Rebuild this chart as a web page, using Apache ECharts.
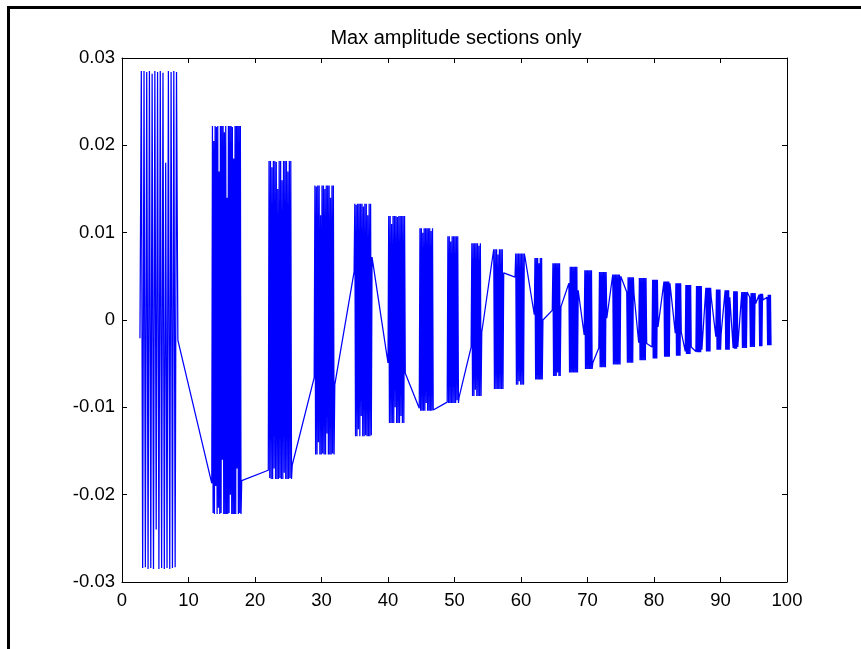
<!DOCTYPE html>
<html>
<head>
<meta charset="utf-8">
<script src="https://cdn.jsdelivr.net/npm/echarts@6/dist/echarts.min.js"></script>
<style>
html,body{margin:0;padding:0;background:#fff;}
#c{width:861px;height:649px;}
</style>
</head>
<body>
<div id="c"></div>
<script>
// ---- Data ----
const titleText = 'Max amplitude sections only';
const xTicks = [0, 10, 20, 30, 40, 50, 60, 70, 80, 90, 100];
const yTicks = [-0.03, -0.02, -0.01, 0, 0.01, 0.02, 0.03];

// start time of each max-amplitude section and its sampling interval
const sectionStart = [2.7, 13.5, 22.0, 28.9, 34.9, 40.0, 44.7, 48.9, 52.5, 55.9, 59.1, 62.0, 64.7, 67.2, 69.5, 71.7,
                      73.8, 75.9, 77.7, 79.7, 81.5, 83.2, 84.7, 86.3, 87.8, 89.3, 90.7, 91.9, 93.2, 94.4, 95.8, 97.0];
const sectionStep = [0.2036, 0.1, 0.1091, 0.1069, 0.108, 0.1083, 0.105, 0.1059, 0.1067, 0.1071, 0.1071, 0.1, 0.1, 0.1, 0.1, 0.1,
                     0.1, 0.1, 0.1, 0.09, 0.09, 0.09, 0.09, 0.09, 0.089, 0.089, 0.0875, 0.0875, 0.1, 0.1, 0.0857, 0.0857];
// sample values of each section
const sectionValues = [
  [-0.0021, 0.0285, -0.0284, 0.0285, -0.0283, 0.0284, -0.0285, 0.0285, -0.0284, 0.0282, -0.0285, 0.0285, -0.0240, 0.0284, -0.0285,
   0.0285, -0.0284, 0.0283, -0.0285, 0.0180, -0.0284, 0.0285, -0.0285, 0.0284, -0.0284, 0.0285, -0.0283, 0.0284, -0.0023],
  [-0.0187, 0.0222, -0.0221, 0.0205, -0.0222, 0.0222, -0.0190, 0.0221, -0.0222, 0.0222,
   -0.0215, 0.0170, -0.0222, 0.0222, -0.0221, 0.0222, -0.0160, 0.0222, -0.0222, 0.0215,
   -0.0222, 0.0222, -0.0222, 0.0140, -0.0222, 0.0222, -0.0221, 0.0222, -0.0200, 0.0222,
   -0.0222, 0.0221, -0.0222, 0.0185, -0.0222, 0.0222, -0.0222, 0.0222, -0.0170, 0.0222,
   -0.0222, 0.0222, -0.0221, 0.0222, -0.0222, -0.0184],
  [-0.0172, 0.0182, -0.0181, 0.0182, -0.0182, 0.0175, -0.0182, 0.0182, -0.0170, 0.0182,
   -0.0182, 0.0181, -0.0182, 0.0150, -0.0182, 0.0182, -0.0181, 0.0182, -0.0182, 0.0160,
   -0.0182, 0.0182, -0.0175, 0.0182, -0.0182, 0.0182, -0.0182, 0.0170, -0.0182, 0.0182,
   -0.0181, 0.0182, -0.0182, -0.0166],
  [-0.0066, 0.0154, -0.0154, 0.0153, -0.0154, 0.0154, -0.0140, 0.0154, -0.0154, 0.0120,
   -0.0154, 0.0154, -0.0153, 0.0154, -0.0154, 0.0150, -0.0154, 0.0154, -0.0130, 0.0154,
   -0.0154, 0.0154, -0.0154, 0.0140, -0.0154, 0.0154, -0.0153, 0.0154, -0.0154, -0.0074],
  [0.0055, 0.0133, -0.0133, 0.0132, -0.0133, 0.0133, -0.0125, 0.0133, -0.0133, 0.0133,
   -0.0110, 0.0133, -0.0133, 0.0130, -0.0133, 0.0133, -0.0132, 0.0133, -0.0133, 0.0120,
   -0.0133, 0.0133, -0.0133, 0.0133, -0.0132, 0.0072],
  [-0.0049, 0.0119, -0.0118, 0.0119, -0.0118, 0.0110, -0.0118, 0.0119, -0.0118, 0.0119,
   -0.0100, 0.0119, -0.0118, 0.0118, -0.0118, 0.0119, -0.0118, 0.0119, -0.0110, 0.0119,
   -0.0118, 0.0119, -0.0118, 0.0119, -0.0061],
  [-0.0101, 0.0105, -0.0104, 0.0105, -0.0104, 0.0100, -0.0104, 0.0105, -0.0104, 0.0105,
   -0.0095, 0.0105, -0.0104, 0.0105, -0.0104, 0.0105, -0.0104, 0.0102, -0.0104, 0.0105, -0.0103],
  [-0.0094, 0.0096, -0.0095, 0.0096, -0.0095, 0.0090, -0.0095, 0.0096, -0.0095, 0.0096,
   -0.0095, 0.0096, -0.0095, 0.0096, -0.0092, 0.0096, -0.0095, -0.0088],
  [-0.0031, 0.0088, -0.0087, 0.0088, -0.0087, 0.0088, -0.0080, 0.0088, -0.0087, 0.0088,
   -0.0087, 0.0085, -0.0087, 0.0088, -0.0087, -0.0014],
  [0.0081, -0.0079, 0.0081, -0.0079, 0.0081, -0.0079, 0.0075, -0.0079, 0.0081, -0.0079,
   0.0081, -0.0079, 0.0081, -0.0079, 0.0054],
  [0.0049, 0.0076, -0.0074, 0.0076, -0.0074, 0.0076, -0.0070, 0.0076, -0.0074, 0.0076,
   -0.0074, 0.0076, -0.0074, 0.0076, 0.0072],
  [0.0006, 0.0071, -0.0068, 0.0071, -0.0068, 0.0071, -0.0068, 0.0065, -0.0068, 0.0071, -0.0068, 0.0071, -0.0068, 0.0000],
  [0.0011, 0.0065, -0.0064, 0.0065, -0.0064, 0.0065, -0.0064, 0.0065, -0.0060, 0.0065, -0.0064, 0.0065, -0.0064, 0.0015],
  [0.0042, -0.0060, 0.0061, -0.0060, 0.0061, -0.0060, 0.0061, -0.0060, 0.0061, -0.0060, 0.0061, -0.0060, 0.0061, -0.0060, 0.0034],
  [-0.0017, 0.0057, -0.0056, 0.0057, -0.0056, 0.0057, -0.0056, 0.0057, -0.0056, 0.0057, -0.0056, 0.0057, -0.0056, -0.0049],
  [-0.0032, 0.0055, -0.0054, 0.0055, -0.0054, 0.0055, -0.0054, 0.0055, -0.0054, 0.0055, -0.0054, 0.0055, 0.0002],
  [0.0052, -0.0051, 0.0052, -0.0051, 0.0052, -0.0051, 0.0052, -0.0051, 0.0052, -0.0051, 0.0052, -0.0051, 0.0050],
  [0.0032, -0.0049, 0.0049, -0.0049, 0.0049, -0.0049, 0.0049, -0.0049, 0.0049, -0.0049, 0.0049, 0.0029],
  [-0.0026, 0.0048, -0.0046, 0.0048, -0.0046, 0.0048, -0.0046, 0.0048, -0.0046, 0.0048, -0.0046, 0.0048, -0.0027],
  [-0.0031, 0.0046, -0.0044, 0.0046, -0.0044, 0.0046, -0.0044, 0.0046, -0.0044, 0.0046, -0.0008],
  [0.0044, -0.0042, 0.0044, -0.0042, 0.0044, -0.0042, 0.0044, -0.0042, 0.0044, -0.0042, 0.0042],
  [-0.0015, 0.0042, -0.0041, 0.0042, -0.0041, 0.0042, -0.0041, 0.0042, -0.0041, 0.0042, -0.0014],
  [-0.0036, 0.0040, -0.0039, 0.0040, -0.0039, 0.0040, -0.0039, 0.0040, -0.0039, 0.0040, -0.0031],
  [-0.0036, 0.0039, -0.0037, 0.0039, -0.0037, 0.0039, -0.0037, 0.0039, -0.0037, 0.0039, -0.0034],
  [0.0037, -0.0036, 0.0037, -0.0036, 0.0037, -0.0036, 0.0037, -0.0036, 0.0037, 0.0026],
  [-0.0019, 0.0035, -0.0034, 0.0035, -0.0034, 0.0035, -0.0034, 0.0035, -0.0034, -0.0015],
  [0.0034, -0.0034, 0.0034, -0.0034, 0.0034, -0.0034, 0.0034, -0.0034, 0.0026],
  [-0.0032, 0.0033, -0.0033, 0.0033, -0.0033, 0.0033, -0.0033, 0.0033, -0.0031],
  [0.0032, -0.0032, 0.0032, -0.0032, 0.0032, -0.0032, 0.0032, -0.0032, 0.0032, 0.0031],
  [0.0026, -0.0031, 0.0031, -0.0031, 0.0031, -0.0031, 0.0031, -0.0031, 0.0031, 0.0019],
  [0.0029, -0.0030, 0.0030, -0.0030, 0.0030, -0.0030, 0.0030, 0.0023],
  [0.0026, -0.0029, 0.0029, -0.0029, 0.0029, -0.0029, 0.0029, -0.0029]
];

// ---- Build the sampled signal (time, value) ----
const signal = [];
sectionValues.forEach((vals, s) => {
  vals.forEach((v, i) => {
    signal.push([sectionStart[s] + i * sectionStep[s], v]);
  });
});

const FONT = 'Liberation Sans, Arial, sans-serif';
const fmtY = v => {
  const r = Math.round(v * 100) / 100;
  return r === 0 ? '0' : String(r);
};

const chart = echarts.init(document.getElementById('c'), null, {renderer: 'canvas'});
const axisCommonX = {
  type: 'value', min: xTicks[0], max: xTicks[xTicks.length - 1], interval: 10,
  axisLine: {show: true, onZero: false, lineStyle: {color: '#000', width: 1}},
  axisTick: {show: true, inside: true, length: 5, lineStyle: {color: '#000', width: 1}},
  splitLine: {show: false}
};
const axisCommonY = {
  type: 'value', min: yTicks[0], max: yTicks[yTicks.length - 1], interval: 0.01,
  axisLine: {show: true, onZero: false, lineStyle: {color: '#000', width: 1}},
  axisTick: {show: true, inside: true, length: 5, lineStyle: {color: '#000', width: 1}},
  splitLine: {show: false}
};

chart.setOption({
  animation: false,
  backgroundColor: '#ffffff',
  title: {
    text: titleText,
    left: 451,
    top: 23,
    textAlign: 'center',
    textStyle: {fontFamily: FONT, fontSize: 20, fontWeight: 'normal', color: '#000'}
  },
  grid: {left: 122, right: 74, top: 58, bottom: 67, containLabel: false},
  xAxis: [
    Object.assign({}, axisCommonX, {
      position: 'bottom',
      axisLabel: {show: true, margin: 9, color: '#000', fontFamily: FONT, fontSize: 18.5}
    }),
    Object.assign({}, axisCommonX, {position: 'top', axisLabel: {show: false}})
  ],
  yAxis: [
    Object.assign({}, axisCommonY, {
      position: 'left',
      axisLabel: {show: true, margin: 7, color: '#000', fontFamily: FONT, fontSize: 18.5, formatter: fmtY}
    }),
    Object.assign({}, axisCommonY, {position: 'right', axisLabel: {show: false}})
  ],
  series: [{
    type: 'line',
    xAxisIndex: 0,
    yAxisIndex: 0,
    data: signal,
    showSymbol: false,
    symbol: 'none',
    sampling: null,
    lineStyle: {color: '#0000ff', width: 1.25},
    itemStyle: {color: '#0000ff'},
    silent: true
  }],
  graphic: [{
    type: 'rect',
    shape: {x: 8.5, y: 7.5, width: 1000, height: 1000},
    style: {fill: null, stroke: '#000', lineWidth: 3},
    silent: true
  }]
});
</script>
</body>
</html>
